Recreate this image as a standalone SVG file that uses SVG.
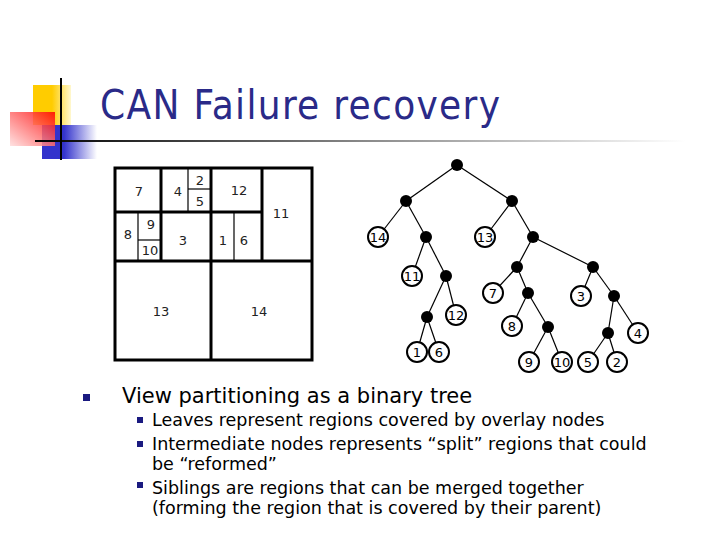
<svg xmlns="http://www.w3.org/2000/svg" width="720" height="540" viewBox="0 0 720 540">
<defs>
<linearGradient id="hl" x1="0" x2="1"><stop offset="0" stop-color="#000"/><stop offset="0.5" stop-color="#888"/><stop offset="1" stop-color="#fff"/></linearGradient>
<linearGradient id="rd" x1="1" x2="0" y1="0" y2="1"><stop offset="0" stop-color="#f00"/><stop offset="1" stop-color="#fdd"/></linearGradient>
<linearGradient id="bl" x1="0" x2="1"><stop offset="0.4" stop-color="#3333cc"/><stop offset="1" stop-color="#fff"/></linearGradient>
<linearGradient id="yl" x1="0" x2="1"><stop offset="0.5" stop-color="#ffcc00"/><stop offset="1" stop-color="#fff8d0"/></linearGradient>
</defs>
<style>
.t{font-family:"DejaVu Sans",sans-serif;fill:#000}
.g{font-family:"DejaVu Sans",sans-serif;font-size:13px;text-anchor:middle;fill:#222}
.thick{stroke:#000;stroke-width:3;fill:none}
.thin{stroke:#000;stroke-width:1.2}
.e{stroke:#000;stroke-width:1.2}
.lf{fill:#fff;stroke:#000;stroke-width:2}
.lt{font-family:"DejaVu Sans",sans-serif;font-size:13px;text-anchor:middle;fill:#000}
</style>
<rect width="720" height="540" fill="#fff"/>
<g id="deco">
<rect x="33" y="85" width="38" height="40" fill="url(#yl)"/>
<rect x="42" y="125" width="55" height="34" fill="url(#bl)"/>
<rect x="10" y="112" width="45" height="34" fill="url(#rd)" opacity="0.85"/>
<rect x="35" y="140" width="650" height="2" fill="url(#hl)"/>
<rect x="60" y="78" width="2" height="82" fill="#000"/>
</g>
<text x="100" y="119" font-family="DejaVu Sans Condensed, DejaVu Sans, sans-serif" font-size="40" fill="#2a2a88" textLength="400">CAN Failure recovery</text>
<g id="grid">
<line class="thin" x1="188" y1="168" x2="188" y2="212"/>
<line class="thin" x1="188" y1="189" x2="211" y2="189"/>
<line class="thin" x1="138" y1="212" x2="138" y2="261"/>
<line class="thin" x1="138" y1="240" x2="161" y2="240"/>
<line class="thin" x1="234" y1="212" x2="234" y2="261"/>
<rect class="thick" x="115" y="168" width="197" height="192"/>
<line class="thick" x1="115" y1="212" x2="262" y2="212"/>
<line class="thick" x1="115" y1="261" x2="312" y2="261"/>
<line class="thick" x1="161" y1="168" x2="161" y2="261"/>
<line class="thick" x1="211" y1="168" x2="211" y2="360"/>
<line class="thick" x1="262" y1="168" x2="262" y2="261"/>
<text class="g" x="139" y="196">7</text>
<text class="g" x="178" y="196">4</text>
<text class="g" x="200" y="185">2</text>
<text class="g" x="200" y="206">5</text>
<text class="g" x="239" y="195">12</text>
<text class="g" x="281" y="218">11</text>
<text class="g" x="128" y="239">8</text>
<text class="g" x="151" y="229">9</text>
<text class="g" x="150" y="255">10</text>
<text class="g" x="183" y="245">3</text>
<text class="g" x="223" y="245">1</text>
<text class="g" x="244" y="245">6</text>
<text class="g" x="161" y="316">13</text>
<text class="g" x="259" y="316">14</text>
</g>
<g id="edges">
<line class="e" x1="457" y1="165" x2="406" y2="201"/><line class="e" x1="457" y1="165" x2="512" y2="201"/>
<line class="e" x1="406" y1="201" x2="378" y2="237"/><line class="e" x1="406" y1="201" x2="426" y2="237"/>
<line class="e" x1="512" y1="201" x2="485" y2="237"/><line class="e" x1="512" y1="201" x2="533" y2="237"/>
<line class="e" x1="426" y1="237" x2="412" y2="276"/><line class="e" x1="426" y1="237" x2="446" y2="276"/>
<line class="e" x1="533" y1="237" x2="517" y2="267"/><line class="e" x1="533" y1="237" x2="593" y2="267"/>
<line class="e" x1="446" y1="276" x2="427" y2="317"/><line class="e" x1="446" y1="276" x2="456" y2="315"/>
<line class="e" x1="517" y1="267" x2="493" y2="293"/><line class="e" x1="517" y1="267" x2="528" y2="293"/>
<line class="e" x1="593" y1="267" x2="581" y2="296"/><line class="e" x1="593" y1="267" x2="614" y2="296"/>
<line class="e" x1="427" y1="317" x2="417" y2="352"/><line class="e" x1="427" y1="317" x2="439" y2="352"/>
<line class="e" x1="528" y1="293" x2="512" y2="326"/><line class="e" x1="528" y1="293" x2="548" y2="327"/>
<line class="e" x1="614" y1="296" x2="608" y2="333"/><line class="e" x1="614" y1="296" x2="638" y2="333"/>
<line class="e" x1="548" y1="327" x2="529" y2="362"/><line class="e" x1="548" y1="327" x2="562" y2="362"/>
<line class="e" x1="608" y1="333" x2="588" y2="362"/><line class="e" x1="608" y1="333" x2="617" y2="362"/>
</g>
<g id="inner" fill="#000">
<circle cx="457" cy="165" r="6"/><circle cx="406" cy="201" r="6"/><circle cx="512" cy="201" r="6"/>
<circle cx="426" cy="237" r="6"/><circle cx="533" cy="237" r="6"/><circle cx="446" cy="276" r="6"/>
<circle cx="517" cy="267" r="6"/><circle cx="593" cy="267" r="6"/><circle cx="427" cy="317" r="6"/>
<circle cx="528" cy="293" r="6"/><circle cx="614" cy="296" r="6"/><circle cx="548" cy="327" r="6"/>
<circle cx="608" cy="333" r="6"/>
</g>
<g id="leaves">
<g id="n14"><circle class="lf" cx="378" cy="237" r="10"/><text class="lt" x="378" y="242">14</text></g>
<g id="n13"><circle class="lf" cx="485" cy="237" r="10"/><text class="lt" x="485" y="242">13</text></g>
<g id="n11"><circle class="lf" cx="412" cy="276" r="10"/><text class="lt" x="412" y="281">11</text></g>
<g id="n12"><circle class="lf" cx="456" cy="315" r="10"/><text class="lt" x="456" y="320">12</text></g>
<g id="n7"><circle class="lf" cx="493" cy="293" r="10"/><text class="lt" x="493" y="298">7</text></g>
<g id="n3"><circle class="lf" cx="581" cy="296" r="10"/><text class="lt" x="581" y="301">3</text></g>
<g id="n1"><circle class="lf" cx="417" cy="352" r="10"/><text class="lt" x="417" y="357">1</text></g>
<g id="n6"><circle class="lf" cx="439" cy="352" r="10"/><text class="lt" x="439" y="357">6</text></g>
<g id="n8"><circle class="lf" cx="512" cy="326" r="10"/><text class="lt" x="512" y="331">8</text></g>
<g id="n4"><circle class="lf" cx="638" cy="333" r="10"/><text class="lt" x="638" y="338">4</text></g>
<g id="n9"><circle class="lf" cx="529" cy="362" r="10"/><text class="lt" x="529" y="367">9</text></g>
<g id="n10"><circle class="lf" cx="562" cy="362" r="10"/><text class="lt" x="562" y="367">10</text></g>
<g id="n5"><circle class="lf" cx="588" cy="362" r="10"/><text class="lt" x="588" y="367">5</text></g>
<g id="n2"><circle class="lf" cx="617" cy="362" r="10"/><text class="lt" x="617" y="367">2</text></g>
</g>
<g id="bullets">
<rect x="83" y="394" width="7" height="7" fill="#1a1a80"/>
<text class="t" x="122" y="403" font-size="21">View partitioning as a binary tree</text>
<rect x="137" y="417" width="6" height="6" fill="#1a1a80"/>
<rect x="137" y="441" width="6" height="6" fill="#1a1a80"/>
<rect x="137" y="482" width="6" height="6" fill="#1a1a80"/>
<text class="t" font-size="17.5"><tspan x="152" y="426">Leaves represent regions covered by overlay nodes</tspan><tspan x="152" y="450">Intermediate nodes represents “split” regions that could</tspan><tspan x="152" y="470">be “reformed”</tspan><tspan x="152" y="494">Siblings are regions that can be merged together</tspan><tspan x="152" y="514">(forming the region that is covered by their parent)</tspan></text>
</g>
</svg>
